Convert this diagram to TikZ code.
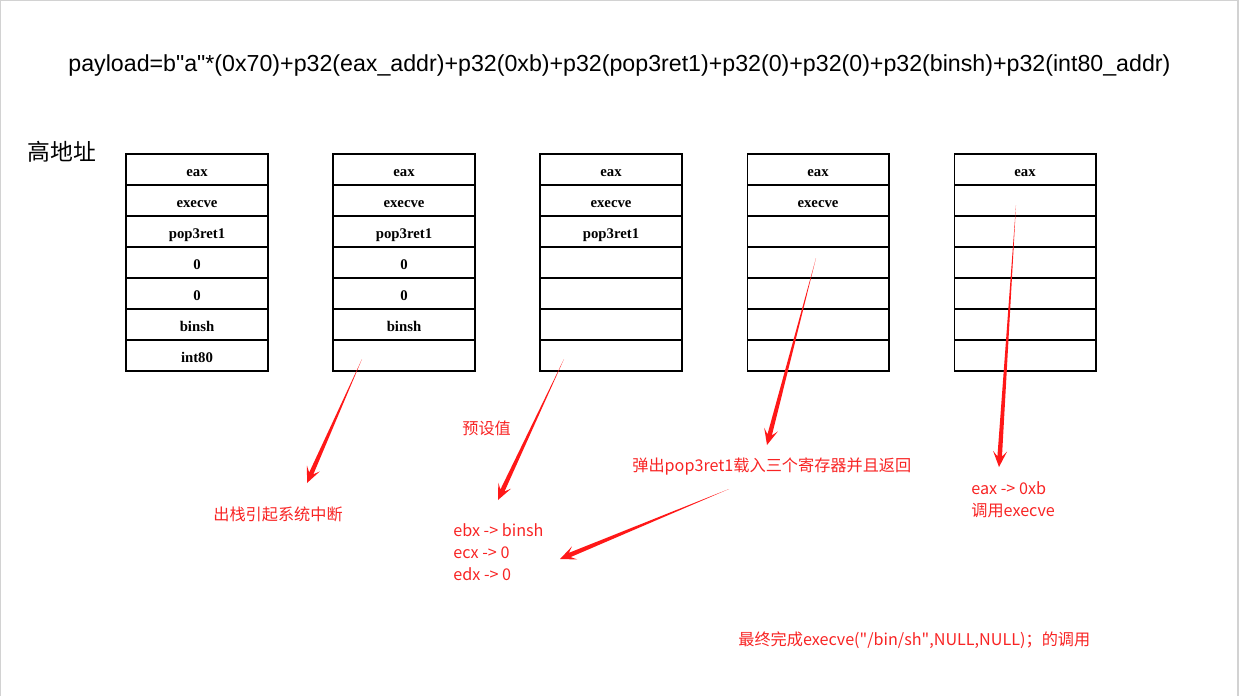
\documentclass[tikz,border=0pt]{standalone}
\usepackage{fontspec}
\setmainfont{Liberation Sans}
\newfontfamily\cellfont{Liberation Serif}
\newfontfamily\cjk{Noto Sans CJK SC}
\usepackage{tikz}
\usetikzlibrary{calc}

\definecolor{textred}{RGB}{248,36,36}
\definecolor{penred}{RGB}{255,24,24}

% tapered red pen arrow from #1 to #2
\newcommand{\penarrow}[2]{%
  \fill[penred] (#1) -- ($($(#2)!6pt!(#1)$)!1.3pt!90:(#1)$)
    -- ($($(#2)!9pt!(#1)$)!4pt!90:(#1)$) -- (#2)
    -- ($($(#2)!9pt!(#1)$)!4pt!-90:(#1)$)
    -- ($($(#2)!6pt!(#1)$)!1.3pt!-90:(#1)$) -- cycle;}

\begin{document}
\begin{tikzpicture}[x=0.02cm, y=-0.02cm,
  cell/.style={draw, line width=0.6pt, minimum width=2.84cm, minimum height=0.62cm,
    inner sep=0pt, text height=7.5pt, text depth=0pt,
    font=\cellfont\bfseries\fontsize{8.4}{9}\selectfont},
  note/.style={textred, font=\cjk\fontsize{9.2}{12.5}\selectfont, inner sep=0pt, align=left}]
\useasboundingbox (0,0) rectangle (1239,696);
\draw[gray!35, line width=1pt] (0,696) -- (0,0) -- (1238,0) -- (1238,696);

% --- title ---
\node[font=\fontsize{13.2}{15}\selectfont, inner sep=0pt] (payload) at (619.5,66)
  {payload=b\textquotedbl a\textquotedbl*(0x70)+p32(eax\_addr)+p32(0xb)+p32(pop3ret1)+p32(0)+p32(0)+p32(binsh)+p32(int80\_addr)};
\node[font=\cjk\fontsize{13}{15}\selectfont, inner sep=0pt] (high) at (62,152) {高地址};

% --- stacks ---
\foreach \s/\x/\n in {1/197/7, 2/404/6, 3/611/3, 4/818/2, 5/1025/1}
  \foreach \j/\t in {1/eax, 2/execve, 3/pop3ret1, 4/0, 5/0, 6/binsh, 7/int80}
    \node[cell] (cell-\s-\j) at (\x,{138.5+31*\j}) {\ifnum\j>\n\else\t\fi};

% --- notes ---
\node[note, anchor=west] (int) at (213,514) {出栈引起系统中断};
\node[note, anchor=west] (preset) at (462,428) {预设值};
\node[note, anchor=north west] (regs) at (453,523) {ebx -> binsh\\ecx -> 0\\edx -> 0};
\node[note, anchor=west] (pop) at (632,467) {弹出pop3ret1载入三个寄存器并且返回};
\node[note, anchor=north west] (call) at (971,481) {eax -> 0xb\\调用execve};
\node[note, anchor=west] (final) at (738,640) {最终完成execve(\textquotedbl/bin/sh\textquotedbl,NULL,NULL)；的调用};

% --- arrows ---
\coordinate (a1s) at (362,359);  \coordinate (a1e) at (307,483);
\coordinate (a2s) at (564,359);  \coordinate (a2e) at (498,500);
\coordinate (a3s) at (816,258);  \coordinate (a3e) at (767,445);
\coordinate (a4s) at (1016,205); \coordinate (a4e) at (999,467);
\coordinate (a5s) at (729,489);  \coordinate (a5e) at (560,559);
\penarrow{a1s}{a1e}
\penarrow{a2s}{a2e}
\penarrow{a3s}{a3e}
\penarrow{a4s}{a4e}
\penarrow{a5s}{a5e}
\end{tikzpicture}
\end{document}
